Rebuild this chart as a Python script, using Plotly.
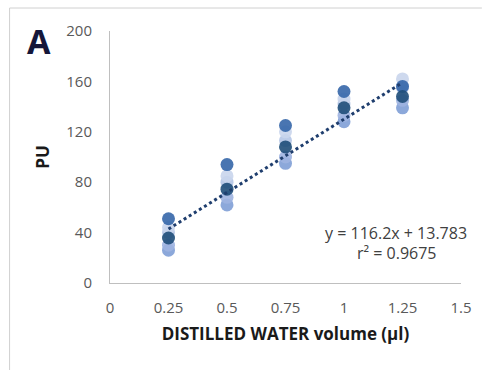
import plotly.graph_objects as go

x_vals = [0.25, 0.5, 0.75, 1.0, 1.25]
rep1 = [51, 94, 125, 152, 156]
rep2 = [44, 85, 120, 146, 162]
rep3 = [40, 80, 113, 142, 155]
rep4 = [30, 68, 100, 133, 145]
rep5 = [26, 62, 95, 128, 139]
mean_vals = [35.7, 74.5, 108, 139, 148]
slope, intercept = 116.2, 13.783
fit_x = [0.25, 1.25]
x_ticks = [0, 0.25, 0.5, 0.75, 1, 1.25, 1.5]
y_ticks = [0, 40, 80, 120, 160, 200]

series = [
    (rep5, "#7F9ED6"),
    (rep4, "#9DB3E0"),
    (rep3, "#B4C5E6"),
    (rep2, "#C9D5EC"),
    (rep1, "#3566A8"),
    (mean_vals, "#1F4E79"),
]

fig = go.Figure()
for vals, col in series:
    fig.add_trace(go.Scatter(x=x_vals, y=vals, mode="markers",
                             marker=dict(size=13, color=col, opacity=0.9, line=dict(width=0)),
                             showlegend=False, hoverinfo="skip"))

fig.add_trace(go.Scatter(x=fit_x, y=[slope * v + intercept for v in fit_x], mode="lines",
                         line=dict(color="#1F3E6E", width=3, dash="dot"),
                         showlegend=False, hoverinfo="skip"))

font_main = "Open Sans, DejaVu Sans, sans-serif"
px0, px1, py0, py1 = 110, 463, 283, 31


def to_px(px):
    return (px - px0) / (px1 - px0)


def to_py(py):
    return (py0 - py) / (py0 - py1)


fig.update_layout(
    width=484, height=370,
    margin=dict(l=110, r=21, t=31, b=87),
    paper_bgcolor="white", plot_bgcolor="white",
    font=dict(family=font_main, size=15, color="#595959"),
    xaxis=dict(range=[0, 1.5], tickvals=x_ticks, ticktext=[str(t) for t in x_ticks],
               showgrid=False, zeroline=False, showline=True, linecolor="#BFBFBF", linewidth=1,
               ticks="", ticklabelstandoff=11,
               title=dict(text="<b>DISTILLED WATER volume (µl)</b>", standoff=12,
                          font=dict(size=17, color="#1a1a1a"))),
    yaxis=dict(range=[0, 200], tickvals=y_ticks, showgrid=False, zeroline=False,
               showline=True, linecolor="#BFBFBF", linewidth=1, ticks="", ticklabelstandoff=14,
               title=dict(text="<b>PU</b>", standoff=12, font=dict(size=17, color="#1a1a1a"))),
)
fig.add_annotation(text="y = 116.2x + 13.783", x=to_px(398), y=to_py(233), xref="paper", yref="paper",
                   xanchor="center", yanchor="middle",
                   showarrow=False, font=dict(size=16, color="#404040"))
fig.add_annotation(text="r² = 0.9675", x=to_px(399), y=to_py(253), xref="paper", yref="paper",
                   xanchor="center", yanchor="middle",
                   showarrow=False, font=dict(size=16, color="#404040"))
fig.add_annotation(text="<b>A</b>", x=to_px(39), y=to_py(41), xref="paper", yref="paper",
                   xanchor="center", yanchor="middle",
                   showarrow=False, font=dict(size=34, color="#15173a"))
fig.add_shape(type="line", xref="paper", yref="paper", x0=to_px(9), x1=to_px(484), y0=to_py(8), y1=to_py(8),
              line=dict(color="#D0D0D0", width=1))
fig.add_shape(type="line", xref="paper", yref="paper", x0=to_px(9), x1=to_px(9), y0=to_py(8), y1=to_py(370),
              line=dict(color="#D0D0D0", width=1))

fig.write_html("out.html")
